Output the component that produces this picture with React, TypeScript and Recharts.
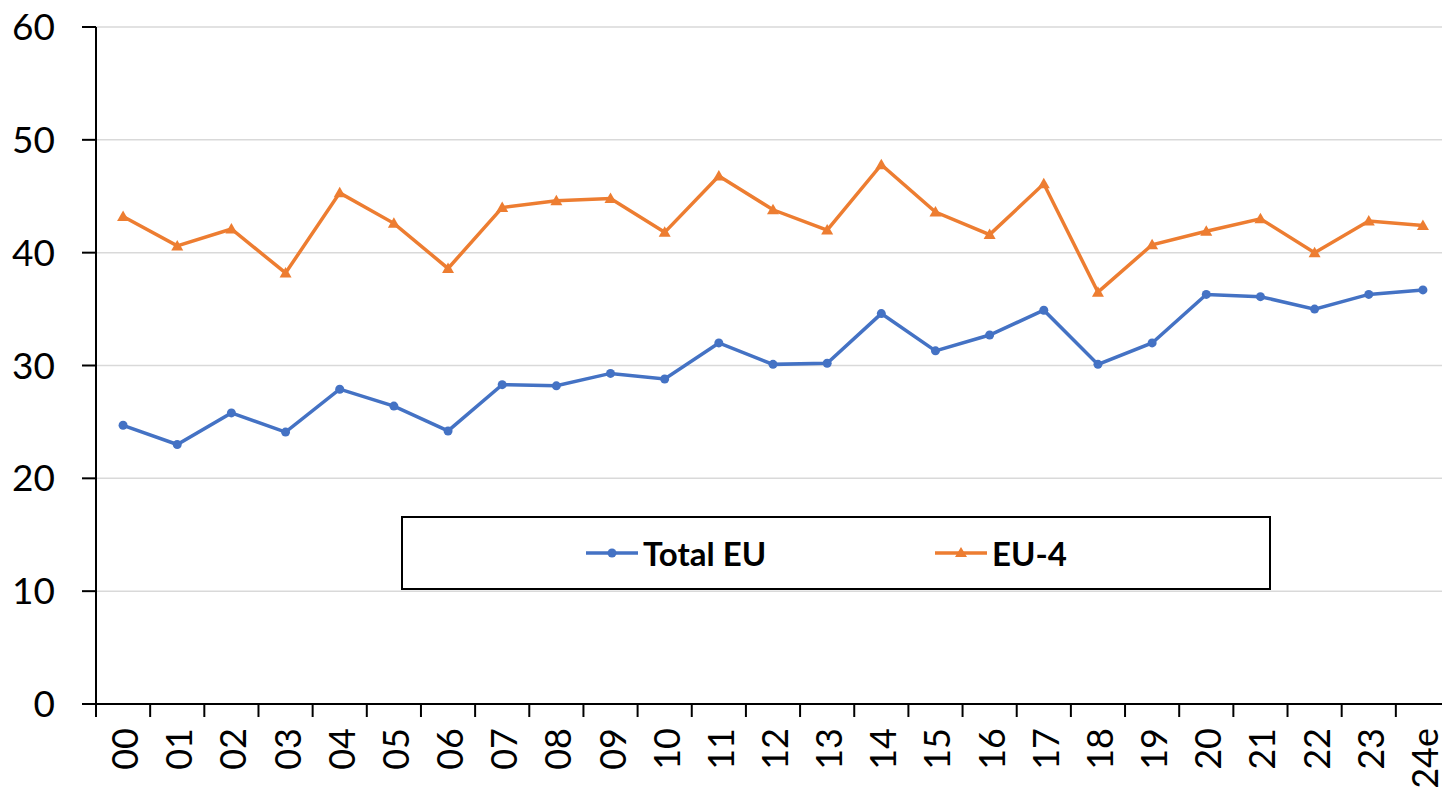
import React from 'react';
import { LineChart, Line, XAxis, YAxis, CartesianGrid } from 'recharts';

const years = ['00', '01', '02', '03', '04', '05', '06', '07', '08', '09', '10', '11', '12', '13', '14', '15', '16', '17', '18', '19', '20', '21', '22', '23', '24e'];
const totalEU = [24.7, 23.0, 25.8, 24.1, 27.9, 26.4, 24.2, 28.3, 28.2, 29.3, 28.8, 32.0, 30.1, 30.2, 34.6, 31.3, 32.7, 34.9, 30.1, 32.0, 36.3, 36.1, 35.0, 36.3, 36.7];
const eu4 = [43.2, 40.6, 42.1, 38.2, 45.3, 42.6, 38.6, 44.0, 44.6, 44.8, 41.8, 46.8, 43.8, 42.0, 47.8, 43.6, 41.6, 46.1, 36.5, 40.7, 41.9, 43.0, 40.0, 42.8, 42.4];
const yTicks = [0, 10, 20, 30, 40, 50, 60];

const BLUE = '#4472C4';
const ORANGE = '#ED7D31';
const FONT = 'Lato, "DejaVu Sans", sans-serif';

const CHART_W = 1460;
const LEFT = 96;
const RIGHT = 10;
const BAND = (CHART_W - LEFT - RIGHT) / years.length;

const data = years.map((y, i) => ({ year: y, total: totalEU[i], eu4: eu4[i] }));

const XTick = (props: any) => {
  const { x, y, payload } = props;
  return (
    <g>
      <line x1={x - BAND / 2} x2={x - BAND / 2} y1={y} y2={y + 13} stroke="#000" strokeWidth={2} />
      <text
        x={x + 1}
        y={y + 24}
        transform={`rotate(-90 ${x + 1} ${y + 24})`}
        textAnchor="end"
        dominantBaseline="central"
        fontSize={36}
        fontFamily={FONT}
        fill="#000"
      >
        {payload.value}
      </text>
    </g>
  );
};

const Triangle = (props: any) => {
  const { cx, cy } = props;
  if (cx == null || cy == null) return null;
  return <path d={`M${cx},${cy - 6} L${cx + 6},${cy + 4.5} L${cx - 6},${cy + 4.5} Z`} fill={ORANGE} />;
};

const LegendItem = ({ color, label, tri, left }: { color: string; label: string; tri?: boolean; left: number }) => (
  <div style={{ position: 'absolute', left, top: 0, height: '100%', display: 'flex', alignItems: 'center' }}>
    <svg width={52} height={20} style={{ marginRight: 5 }}>
      <line x1={0} x2={52} y1={10} y2={10} stroke={color} strokeWidth={3.5} />
      {tri ? (
        <path d="M26,4 L32,14 L20,14 Z" fill={color} />
      ) : (
        <circle cx={26} cy={10} r={4.5} fill={color} />
      )}
    </svg>
    <span style={{ fontFamily: FONT, fontWeight: 700, fontSize: 33, color: '#000' }}>{label}</span>
  </div>
);

export default function App() {
  return (
    <div style={{ position: 'absolute', left: 0, top: 0, width: 1442, height: 793, overflow: 'hidden', background: '#fff' }}>
      <LineChart width={CHART_W} height={793} data={data} margin={{ top: 27, right: RIGHT, left: 0, bottom: 0 }}>
        <CartesianGrid vertical={false} stroke="#d9d9d9" strokeWidth={1.5} />
        <XAxis
          dataKey="year"
          scale="band"
          interval={0}
          height={89}
          tickLine={false}
          tickSize={0}
          tickMargin={0}
          axisLine={{ stroke: '#000', strokeWidth: 2 }}
          tick={<XTick />}
        />
        <YAxis
          width={LEFT}
          domain={[0, 60]}
          ticks={yTicks}
          interval={0}
          tickSize={14}
          tickMargin={27}
          axisLine={{ stroke: '#000', strokeWidth: 2 }}
          tickLine={{ stroke: '#000', strokeWidth: 2 }}
          tick={{ fill: '#000', fontSize: 37, fontFamily: FONT }}
        />
        <Line
          dataKey="total"
          stroke={BLUE}
          strokeWidth={3.5}
          dot={{ r: 4.5, fill: BLUE, stroke: BLUE, strokeWidth: 0 }}
          isAnimationActive={false}
        />
        <Line
          dataKey="eu4"
          stroke={ORANGE}
          strokeWidth={3.5}
          dot={<Triangle />}
          isAnimationActive={false}
        />
      </LineChart>
      <div
        style={{
          position: 'absolute',
          left: 401,
          top: 516,
          width: 870,
          height: 74,
          border: '2px solid #000',
          boxSizing: 'border-box',
          background: '#fff',
        }}
      >
        <LegendItem color={BLUE} label="Total EU" left={183} />
        <LegendItem color={ORANGE} label="EU-4" tri left={532} />
      </div>
    </div>
  );
}
